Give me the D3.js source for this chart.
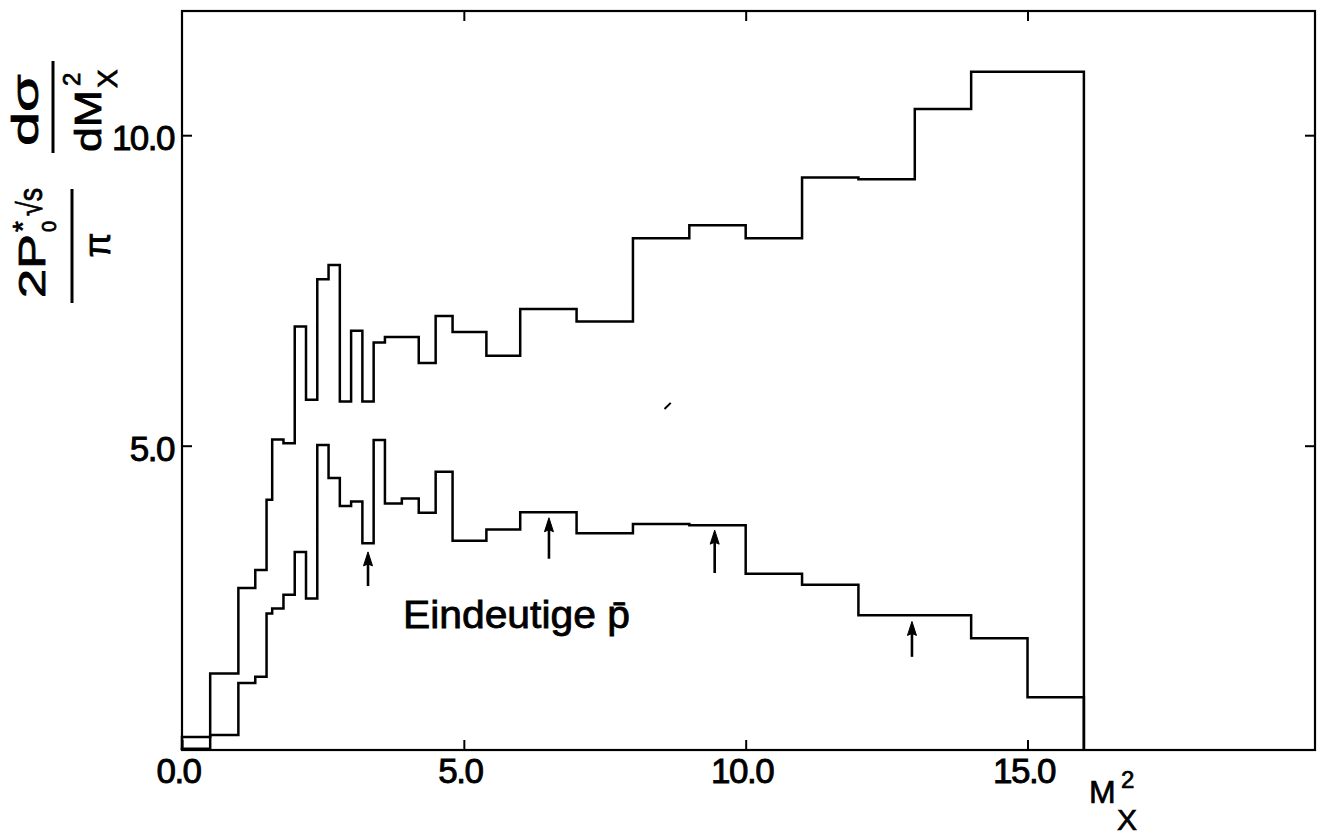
<!DOCTYPE html>
<html lang="de">
<head>
<meta charset="UTF-8">
<title>Mx2 Verteilung</title>
<script src="https://cdn.jsdelivr.net/npm/d3@7"></script>
<style>
body{margin:0;background:#fff;}
text{font-family:"Liberation Sans",Arial,sans-serif;fill:#000;}
</style>
</head>
<body>
<script>
// bin edges in M_X^2
var edges = [0, 0.5, 1.0, 1.3, 1.5, 1.6, 1.8, 2.0, 2.2, 2.4, 2.6, 2.8, 3.0, 3.2, 3.4, 3.6, 3.9, 4.2, 4.5, 4.8, 5.4, 6.0, 7.0, 8.0, 9.0, 10.0, 11.0, 12.0, 13.0, 14.0, 15.0, 16.0];
// alle Ereignisse (obere Kurve)
var allEvents = [0.31, 1.33, 2.71, 3.0, 4.13, 5.10, 5.04, 6.92, 5.74, 7.68, 7.91, 5.71, 6.85, 5.71, 6.66, 6.75, 6.75, 6.33, 7.09, 6.83, 6.45, 7.20, 7.00, 8.34, 8.55, 8.34, 9.32, 9.29, 10.42, 11.02, 11.02];
// eindeutige pbar (untere Kurve)
var uniquePbar = [0.12, 0.34, 1.18, 1.28, 2.30, 2.38, 2.60, 3.29, 2.54, 5.01, 4.48, 4.03, 4.10, 3.43, 5.09, 4.07, 4.15, 3.92, 4.58, 3.47, 3.65, 3.93, 3.59, 3.74, 3.72, 2.94, 2.76, 2.27, 2.27, 1.90, 0.95];
// pfeile: x, spitze, ende
var arrowX = [3.30, 6.51, 9.45, 12.95];
var arrowTip = [3.29, 3.84, 3.64, 2.17];
var arrowTail = [2.74, 3.18, 2.95, 1.60];
var xTicks = [0, 5, 10, 15];
var yTicks = [5, 10];
var label = "Eindeutige p\u0304";

var W = 1322, H = 836;
var svg = d3.select("body").append("svg").attr("width", W).attr("height", H);

var x = d3.scaleLinear().domain([0, 20.1]).range([182, 1315]);
var y = d3.scaleLinear().domain([0.1, 12]).range([750, 11]);
var ymin = y.domain()[0];

// rahmen
svg.append("rect")
	.attr("x", x(0)).attr("y", y(12))
	.attr("width", x(20.1) - x(0)).attr("height", y(0.1) - y(12))
	.attr("fill", "none").attr("stroke", "#000").attr("stroke-width", 2.2);

function styleAxis(g){
	g.select(".domain").remove();
	g.selectAll(".tick line").attr("stroke", "#000").attr("stroke-width", 2);
	g.selectAll(".tick text")
		.attr("font-size", 35).attr("letter-spacing", -1.5)
		.attr("stroke", "#000").attr("stroke-width", 0.9);
}

svg.append("g").attr("transform", "translate(0," + y(ymin) + ")")
	.call(d3.axisBottom(x).tickValues(xTicks).tickSize(-10).tickPadding(8).tickFormat(d3.format(".1f")))
	.call(styleAxis)
	.selectAll(".tick text").attr("dx", -4);
svg.append("g").attr("transform", "translate(0," + y(12) + ")")
	.call(d3.axisTop(x).tickValues(xTicks.slice(1)).tickSize(-10).tickFormat(""))
	.call(styleAxis);
svg.append("g").attr("transform", "translate(" + x(0) + ",0)")
	.call(d3.axisLeft(y).tickValues(yTicks).tickSize(-10).tickPadding(8).tickFormat(d3.format(".1f")))
	.call(styleAxis)
	.selectAll(".tick text").attr("dy", "0.42em");
svg.append("g").attr("transform", "translate(" + x(20.1) + ",0)")
	.call(d3.axisRight(y).tickValues(yTicks).tickSize(-10).tickFormat(""))
	.call(styleAxis);

// histogramme als treppen
function steps(vals){
	var pts = [[edges[0], ymin]];
	for(var i = 0; i < vals.length; i++){
		pts.push([edges[i], vals[i]]);
		pts.push([edges[i + 1], vals[i]]);
	}
	pts.push([edges[edges.length - 1], ymin]);
	return pts;
}
var line = d3.line().x(function(d){ return x(d[0]); }).y(function(d){ return y(d[1]); });
[allEvents, uniquePbar].forEach(function(v){
	svg.append("path").attr("d", line(steps(v)))
		.attr("fill", "none").attr("stroke", "#000").attr("stroke-width", 2.5)
		.attr("stroke-linejoin", "miter");
});

// pfeile
for(var i = 0; i < arrowX.length; i++){
	var ax = x(arrowX[i]), t = y(arrowTip[i]), b = y(arrowTail[i]);
	svg.append("line").attr("x1", ax).attr("x2", ax).attr("y1", t + 8).attr("y2", b)
		.attr("stroke", "#000").attr("stroke-width", 2.6);
	svg.append("path")
		.attr("d", "M" + ax + "," + t + " L" + (ax + 4.5) + "," + (t + 14) + " L" + ax + "," + (t + 12) + " L" + (ax - 4.5) + "," + (t + 14) + "Z")
		.attr("fill", "#000").attr("stroke", "#000").attr("stroke-width", 1);
}

// kleiner strich (scan)
svg.append("line").attr("x1", x(8.56)).attr("y1", y(5.59)).attr("x2", x(8.67)).attr("y2", y(5.69))
	.attr("stroke", "#000").attr("stroke-width", 2);

// beschriftung
svg.append("text").attr("x", x(3.92)).attr("y", y(2.06))
	.attr("font-size", 38).attr("textLength", 227).attr("lengthAdjust", "spacingAndGlyphs")
	.attr("stroke", "#000").attr("stroke-width", 0.8)
	.text(label);

// x-achsentitel
var xt = svg.append("g").attr("stroke", "#000").attr("stroke-width", 0.7);
xt.append("text").attr("x", 1089).attr("y", 803).attr("font-size", 32).text("M");
xt.append("text").attr("x", 1121).attr("y", 788).attr("font-size", 24).text("2");
xt.append("text").attr("x", 1117).attr("y", 830).attr("font-size", 30).text("X");

// y-achsentitel (gedreht)
var yt = svg.append("g").attr("transform", "rotate(-90)").attr("stroke", "#000").attr("stroke-width", 0.8);
yt.append("text").attr("x", -146).attr("y", 38).attr("font-size", 36)
	.attr("textLength", 72).attr("lengthAdjust", "spacingAndGlyphs").text("d\u03c3");
yt.append("line").attr("x1", -153).attr("x2", -61).attr("y1", 53).attr("y2", 53).attr("stroke-width", 3);
yt.append("text").attr("x", -152).attr("y", 101).attr("font-size", 36)
	.attr("textLength", 62).attr("lengthAdjust", "spacingAndGlyphs").text("dM");
yt.append("text").attr("x", -86).attr("y", 80).attr("font-size", 24).text("2");
yt.append("text").attr("x", -88).attr("y", 117).attr("font-size", 28).text("X");

yt.append("text").attr("x", -298).attr("y", 45).attr("font-size", 36)
	.attr("textLength", 64).attr("lengthAdjust", "spacingAndGlyphs").text("2P");
yt.append("text").attr("x", -232).attr("y", 32).attr("font-size", 28).text("*");
yt.append("text").attr("x", -232).attr("y", 56).attr("font-size", 20).text("0");
yt.append("text").attr("x", -216).attr("y", 42).attr("font-size", 34)
	.attr("textLength", 28).attr("lengthAdjust", "spacingAndGlyphs").text("\u221as");
yt.append("line").attr("x1", -303).attr("x2", -189).attr("y1", 72).attr("y2", 72).attr("stroke-width", 3);
yt.append("text").attr("x", -245).attr("y", 110).attr("text-anchor", "middle").attr("font-size", 36).text("\u03c0");
</script>
</body>
</html>
